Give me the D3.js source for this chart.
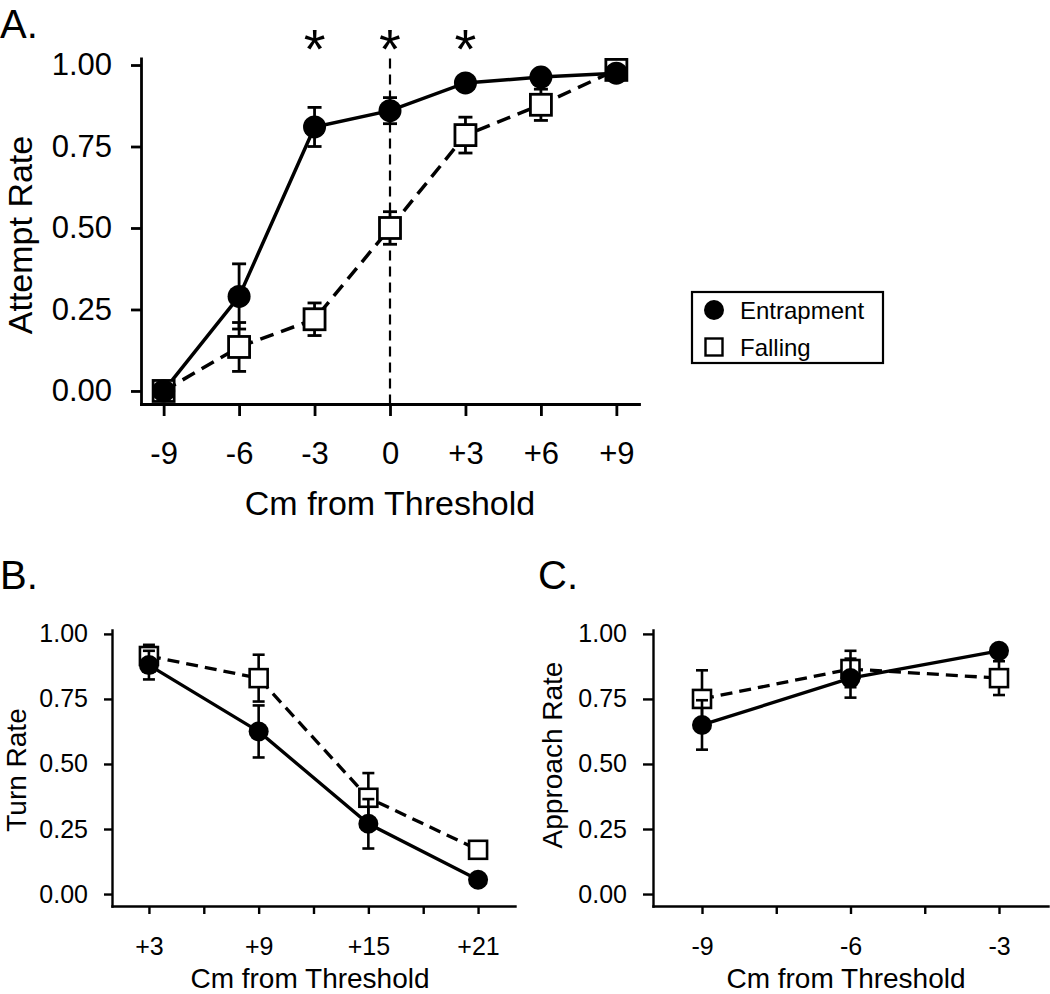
<!DOCTYPE html>
<html><head><meta charset="utf-8">
<script src="https://cdn.jsdelivr.net/npm/d3@7"></script>
<style>
body{margin:0;background:#fff}
svg{display:block}
text{font-family:"Liberation Sans",Arial,Helvetica,sans-serif;fill:#000}
</style>
</head><body>
<svg id="chart" width="1050" height="994"></svg>
<script>
// ---------- data ----------
const seriesNames = ["Entrapment", "Falling"];
const yTicks = [0, 0.25, 0.5, 0.75, 1];
const yTickLabels = ["0.00", "0.25", "0.50", "0.75", "1.00"];

// Panel A: Attempt rate
const aX = [-9, -6, -3, 0, 3, 6, 9];
const aTickLabels = ["-9", "-6", "-3", "0", "+3", "+6", "+9"];
const aEntrap = [0, 0.29, 0.81, 0.86, 0.945, 0.963, 0.975];
const aEntrapErr = [0, 0.10, 0.06, 0.04, 0.015, 0.015, 0.01];
const aFall = [0, 0.135, 0.22, 0.50, 0.785, 0.878, 0.985];
const aFallErr = [0, 0.075, 0.05, 0.05, 0.055, 0.048, 0.01];
const aSignificant = [-3, 0, 3];

// Panel B: Turn rate
const bX = [3, 9, 15, 21];
const bTicks = [3, 6, 9, 12, 15, 18, 21];
const bTickLabels = ["+3", "", "+9", "", "+15", "", "+21"];
const bEntrap = [0.88, 0.625, 0.27, 0.055];
const bEntrapErr = [0.055, 0.10, 0.095, 0.015];
const bFall = [0.915, 0.83, 0.37, 0.17];
const bFallErr = [0.043, 0.09, 0.095, 0.015];

// Panel C: Approach rate
const cX = [-9, -6, -3];
const cTicks = [-9, -7.5, -6, -4.5, -3];
const cTickLabels = ["-9", "", "-6", "", "-3"];
const cEntrap = [0.65, 0.83, 0.935];
const cEntrapErr = [0.095, 0.075, 0.02];
const cFall = [0.75, 0.865, 0.83];
const cFallErr = [0.11, 0.07, 0.065];

// ---------- drawing ----------
const svg = d3.select("#chart");
svg.append("rect").attr("width", 1050).attr("height", 994).attr("fill", "#fff");

function panel(o) {
  const x = d3.scaleLinear().domain(o.xDomain).range(o.xRange);
  const y = d3.scaleLinear().domain(o.yDomain).range(o.yRange);
  const g = svg.append("g");

  const xAxis = d3.axisBottom(x).tickValues(o.xTicks)
    .tickFormat((d, i) => o.xLabels[i]).tickSize(o.xTickSize).tickSizeOuter(0).tickPadding(o.xPad);
  const gx = g.append("g").attr("transform", `translate(0,${o.yRange[0]})`).call(xAxis);
  const yAxis = d3.axisLeft(y).tickValues(yTicks)
    .tickFormat((d, i) => yTickLabels[i]).tickSize(o.yTickSize).tickSizeOuter(0).tickPadding(o.yPad);
  const gy = g.append("g").attr("transform", `translate(${o.xRange[0]},0)`).call(yAxis);
  [gx, gy].forEach(a => {
    a.attr("font-family", null).attr("font-size", null);
    a.select(".domain").attr("stroke", "#000").attr("stroke-width", o.axisW).attr("stroke-linecap", "square");
    a.selectAll(".tick line").attr("stroke", "#000").attr("stroke-width", o.axisW);
    a.selectAll(".tick text").style("font-size", o.tickFont + "px").attr("fill", "#000");
  });

  // axis titles
  g.append("text").attr("x", o.xTitleX).attr("y", o.xTitleY).attr("text-anchor", "middle")
    .style("font-size", o.titleFont + "px").text("Cm from Threshold");
  g.append("text").attr("transform", `translate(${o.yTitleX},${o.yTitleY}) rotate(-90)`)
    .attr("text-anchor", "middle").style("font-size", o.titleFont + "px").text(o.yTitle);
  // panel letter
  g.append("text").attr("x", o.letterX).attr("y", o.letterY)
    .style("font-size", o.letterFont + "px").text(o.letter);

  if (o.extra) o.extra(g, x, y);

  const mk = (xs, vs, es) => xs.map((d, i) => ({x: d, v: vs[i], e: es[i]}));
  const ent = mk(o.xs, o.ent, o.entErr);
  const fal = mk(o.xs, o.fal, o.falErr);
  const line = d3.line().x(d => x(d.x)).y(d => y(d.v));

  g.append("path").datum(fal).attr("d", line).attr("fill", "none").attr("stroke", "#000")
    .attr("stroke-width", o.lineW).attr("stroke-dasharray", o.dash);
  g.append("path").datum(ent).attr("d", line).attr("fill", "none").attr("stroke", "#000")
    .attr("stroke-width", o.lineW);

  function errBars(data) {
    const eb = g.append("g").attr("stroke", "#000").attr("stroke-width", o.errW);
    data.filter(d => d.e > 0).forEach(d => {
      eb.append("line").attr("x1", x(d.x)).attr("x2", x(d.x)).attr("y1", y(d.v - d.e)).attr("y2", y(d.v + d.e));
      [d.v - d.e, d.v + d.e].forEach(v => {
        eb.append("line").attr("x1", x(d.x) - o.cap).attr("x2", x(d.x) + o.cap).attr("y1", y(v)).attr("y2", y(v));
      });
    });
  }
  errBars(fal);
  g.selectAll(null).data(fal).enter().append("rect")
    .attr("x", d => x(d.x) - o.sq / 2).attr("y", d => y(d.v) - o.sq / 2)
    .attr("width", o.sq).attr("height", o.sq)
    .attr("fill", "#fff").attr("stroke", "#000").attr("stroke-width", o.mkW);
  errBars(ent);
  g.selectAll(null).data(ent).enter().append("circle")
    .attr("cx", d => x(d.x)).attr("cy", d => y(d.v)).attr("r", o.r).attr("fill", "#000");
  return {x, y, g};
}

// Panel A
panel({
  xDomain: [-9.9, 9.9], xRange: [141, 639],
  yDomain: [-0.04, 1.02], yRange: [404, 58.5],
  xTicks: aX, xLabels: aTickLabels, xs: aX,
  ent: aEntrap, entErr: aEntrapErr, fal: aFall, falErr: aFallErr,
  xTickSize: 12, yTickSize: 10, xPad: 26, yPad: 19, axisW: 2.8,
  tickFont: 31, titleFont: 34, letterFont: 40,
  xTitleX: 390, xTitleY: 515, yTitleX: 32, yTitleY: 235, yTitle: "Attempt Rate",
  letter: "A.", letterX: 0, letterY: 38,
  lineW: 3.5, dash: "14,8", errW: 2.8, cap: 7, sq: 21, r: 11.5, mkW: 2.8,
  extra: (g, x, y) => {
    g.append("line").attr("x1", x(0)).attr("x2", x(0)).attr("y1", y(1.02)).attr("y2", y(-0.04))
      .attr("stroke", "#000").attr("stroke-width", 2.2).attr("stroke-dasharray", "10,6");
    g.selectAll(null).data(aSignificant).enter().append("text")
      .attr("x", d => x(d)).attr("y", 68).attr("text-anchor", "middle")
      .style("font-size", "56px").text("*");
  }
});

// Panel B
panel({
  xDomain: [0.98, 23.02], xRange: [112, 515],
  yDomain: [-0.046, 1.015], yRange: [906, 630],
  xTicks: bTicks, xLabels: bTickLabels, xs: bX,
  ent: bEntrap, entErr: bEntrapErr, fal: bFall, falErr: bFallErr,
  xTickSize: 8, yTickSize: 8, xPad: 23, yPad: 16, axisW: 2.4,
  tickFont: 25, titleFont: 28, letterFont: 40,
  xTitleX: 310, xTitleY: 988, yTitleX: 26, yTitleY: 770, yTitle: "Turn Rate",
  letter: "B.", letterX: 0, letterY: 589,
  lineW: 3.3, dash: "12,7", errW: 2.6, cap: 6, sq: 18, r: 10, mkW: 2.6
});

// Panel C
panel({
  xDomain: [-9.99, -2.01], xRange: [653, 1048],
  yDomain: [-0.046, 1.015], yRange: [906, 630],
  xTicks: cTicks, xLabels: cTickLabels, xs: cX,
  ent: cEntrap, entErr: cEntrapErr, fal: cFall, falErr: cFallErr,
  xTickSize: 8, yTickSize: 10, xPad: 23, yPad: 16, axisW: 2.4,
  tickFont: 25, titleFont: 28, letterFont: 40,
  xTitleX: 846, xTitleY: 988, yTitleX: 562, yTitleY: 755, yTitle: "Approach Rate",
  letter: "C.", letterX: 538, letterY: 589,
  lineW: 3.3, dash: "12,7", errW: 2.6, cap: 6, sq: 18, r: 10, mkW: 2.6
});

// Legend
const legend = svg.append("g");
legend.append("rect").attr("x", 692).attr("y", 292).attr("width", 191).attr("height", 71)
  .attr("fill", "#fff").attr("stroke", "#000").attr("stroke-width", 2.2);
const items = legend.selectAll(null).data(seriesNames).enter().append("g")
  .attr("transform", (d, i) => `translate(714,${310 + i * 37})`);
items.each(function (d, i) {
  const it = d3.select(this);
  if (i === 0) it.append("circle").attr("r", 10).attr("fill", "#000");
  else it.append("rect").attr("x", -8.5).attr("y", -8.5).attr("width", 17).attr("height", 17)
    .attr("fill", "#fff").attr("stroke", "#000").attr("stroke-width", 2.4);
  it.append("text").attr("x", 26).attr("y", 8.5).style("font-size", "24px").text(d);
});
</script>
</body></html>
